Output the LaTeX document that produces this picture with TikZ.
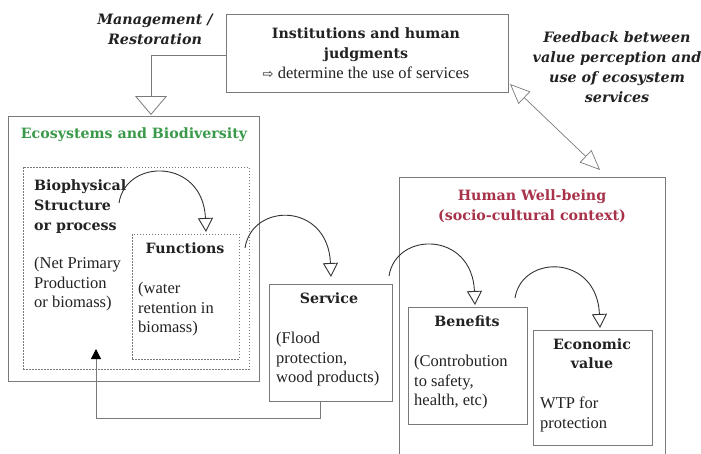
\documentclass[tikz,border=0pt]{standalone}
\usepackage{fontspec}
\setmainfont{Liberation Serif}
\newfontfamily\hdfont{DejaVu Serif}
\newfontfamily\symfont{DejaVu Sans}
\usetikzlibrary{arrows.meta}
\definecolor{linegray}{HTML}{7A7A7A}
\definecolor{curvegray}{HTML}{333333}
\definecolor{ecogreen}{HTML}{3A9A4A}
\definecolor{hwbred}{HTML}{A8324A}
\definecolor{txt}{HTML}{222222}
\begin{document}
\begin{tikzpicture}[x=1pt,y=-1pt,
  box/.style={draw=linegray, line width=0.8pt, rectangle, inner sep=0pt},
  dbox/.style={draw=linegray, line width=0.6pt, dash pattern=on 1.5pt off 1.5pt, rectangle, inner sep=0pt},
  hd/.style={text=txt, font=\hdfont\bfseries\fontsize{14.2}{20}\selectfont, inner sep=0pt, align=center, anchor=north},
  hdi/.style={text=txt, font=\hdfont\bfseries\itshape\fontsize{14.3}{19.5}\selectfont, inner sep=0pt, align=center, anchor=north},
  bd/.style={text=txt, font=\fontsize{16.5}{19.5}\selectfont, inner sep=0pt, align=left, anchor=north west},
  conn/.style={draw=linegray, line width=0.8pt},
  curv/.style={draw=curvegray, line width=0.9pt, -{Triangle[open, length=14pt, width=15pt]}}
]
\useasboundingbox (0,0) rectangle (701,453);
\fill[white] (0,0) rectangle (701,453);

% boxes
\node[box, minimum width=282pt, minimum height=78pt] (inst) at (367,53) {};
\node[box, minimum width=251pt, minimum height=265pt] (eco) at (133.5,248.5) {};
\node[dbox, minimum width=226pt, minimum height=202pt] (bio) at (136,268) {};
\node[dbox, minimum width=107pt, minimum height=125pt] (func) at (185.5,296.5) {};
\node[box, fill=white, minimum width=123pt, minimum height=117pt] (serv) at (330.5,342.5) {};
\node[box, minimum width=266pt, minimum height=293pt] (hwb) at (532,323.5) {};
\node[box, minimum width=119pt, minimum height=117pt] (ben) at (467.5,365.5) {};
\node[box, minimum width=119pt, minimum height=115pt] (econ) at (592.5,387.5) {};

% texts
\node[hdi] (mgmt) at (155,14) {Management /\\Restoration};
\node[hd] (insttitle) at (366,28) {Institutions and human\\judgments};
\node[bd, anchor=north] (instsub) at (366,67) {{\symfont\fontsize{13}{14}\selectfont ⇨} determine the use of services};
\node[hd, text=ecogreen] (ecotitle) at (134,128) {Ecosystems and Biodiversity};
\node[hd, align=left, anchor=north west] (biotitle) at (34,180) {Biophysical\\Structure\\or process};
\node[bd] (biotext) at (34,257) {(Net Primary\\Production\\or biomass)};
\node[hd] (functitle) at (185,243) {Functions};
\node[bd] (functext) at (138,282) {(water\\retention in\\biomass)};
\node[hd] (servtitle) at (329,293) {Service};
\node[bd] (servtext) at (276,332) {(Flood\\protection,\\wood products)};
\node[hd, text=hwbred] (hwbtitle) at (532,190) {Human Well-being\\(socio-cultural context)};
\node[hd] (bentitle) at (467,316) {Benefits};
\node[bd] (bentext) at (414,355) {(Controbution\\to safety,\\health, etc)};
\node[hd, font=\hdfont\bfseries\fontsize{14.2}{19}\selectfont] (econtitle) at (592,339) {Economic\\value};
\node[bd] (econtext) at (540,397) {WTP for\\protection};
\node[hdi, font=\hdfont\bfseries\itshape\fontsize{14.3}{20}\selectfont] (fbtext) at (617,31) {Feedback between\\value perception and\\use of ecosystem\\services};

% coordinates for connector ends
\coordinate (mgmttip) at (151,115);
\coordinate (loopin) at (96,349);
\coordinate (fbA) at (510,84);
\coordinate (fbB) at (600,170);
\coordinate (s1) at (119,203); \coordinate (e1) at (206,232);
\coordinate (s2) at (245,248); \coordinate (e2) at (331,277);
\coordinate (s3) at (389,276); \coordinate (e3) at (475,305);
\coordinate (s4) at (515,298); \coordinate (e4) at (600,328);

% connectors
\draw[conn, -{Triangle[open, length=19pt, width=32pt]}] (inst.west |- 0,55) -| (mgmttip);
\draw[conn, -{Triangle[length=10pt, width=10pt, color=black]}] (serv.south -| 320,0) -- (320,418) -| (loopin);
\draw[conn, line width=0.7pt, {Triangle[open, length=20pt, width=17pt]}-{Triangle[open, length=20pt, width=17pt]}] (fbA) -- (fbB);

\draw[curv] (s1) .. controls (126,158) and (203,158) .. (e1);
\draw[curv] (s2) .. controls (252,202) and (328,202) .. (e2);
\draw[curv] (s3) .. controls (396,231) and (472,231) .. (e3);
\draw[curv] (s4) .. controls (522,254) and (597,254) .. (e4);
\end{tikzpicture}
\end{document}
